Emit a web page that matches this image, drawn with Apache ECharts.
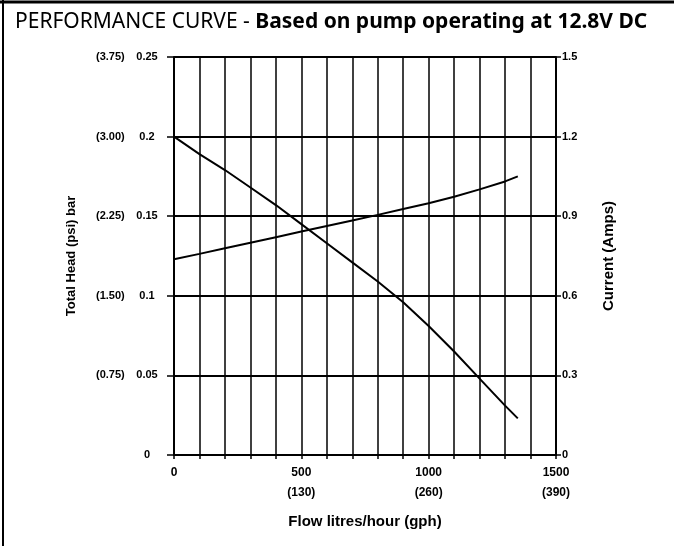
<!DOCTYPE html>
<html>
<head>
<meta charset="utf-8">
<script src="https://cdn.jsdelivr.net/npm/echarts@6/dist/echarts.min.js"></script>
<style>html,body{margin:0;padding:0;background:#fff;}#c{width:678px;height:546px;}</style>
</head>
<body>
<div id="c"></div>
<script>
// Flow (litres/hour)
const flow = [0, 100, 200, 300, 400, 500, 600, 700, 800, 900, 1000, 1100, 1200, 1300, 1350];
// Total head (bar)
const headBar = [0.200, 0.189, 0.179, 0.168, 0.157, 0.145, 0.133, 0.121, 0.109, 0.096, 0.081, 0.065, 0.048, 0.031, 0.023];
// Current (Amps)
const currentAmps = [0.738, 0.758, 0.779, 0.800, 0.821, 0.842, 0.863, 0.884, 0.905, 0.927, 0.949, 0.973, 1.001, 1.031, 1.050];

// Tick labels
const xTickValues = [0, 500, 1000, 1500];
const xTickGph = ['', '(130)', '(260)', '(390)'];
const leftTickBar = ['0', '0.05', '0.1', '0.15', '0.2', '0.25'];
const leftTickPsi = ['', '(0.75)', '(1.50)', '(2.25)', '(3.00)', '(3.75)'];
const rightTickAmps = ['0', '0.3', '0.6', '0.9', '1.2', '1.5'];

const chart = echarts.init(document.getElementById('c'), null, {renderer: 'canvas'});
const lblFont = {fontFamily: 'Liberation Sans', fontWeight: 'bold', fontSize: 11, color: '#000'};

chart.setOption({
  backgroundColor: '#fff',
  animation: false,
  title: {
    left: 10, top: 7,
    text: '{a|PERFORMANCE CURVE - }{b|Based on pump operating at 12.8V DC}',
    textStyle: {
      rich: {
        a: {fontFamily: 'Noto Sans', fontSize: 21, fontWeight: 'normal', color: '#000'},
        b: {fontFamily: 'Noto Sans', fontSize: 21, fontWeight: 'bold', color: '#000'}
      }
    }
  },
  graphic: [
    {type: 'line', shape: {x1: 0, y1: 2, x2: 674, y2: 2}, style: {stroke: '#000', lineWidth: 3}},
    {type: 'line', shape: {x1: 3, y1: 0, x2: 3, y2: 546}, style: {stroke: '#000', lineWidth: 2}}
  ],
  grid: {left: 174, right: 122, top: 57, bottom: 91, containLabel: false},
  xAxis: {
    type: 'value', min: 0, max: 1500, interval: 100,
    name: 'Flow litres/hour (gph)', nameLocation: 'middle', nameGap: 59,
    nameTextStyle: {fontFamily: 'Liberation Sans', fontWeight: 'bold', fontSize: 15, color: '#000'},
    axisLine: {show: true, lineStyle: {color: '#000', width: 2}},
    axisTick: {show: true, length: 4, lineStyle: {color: '#000', width: 1.5}},
    splitLine: {show: true, lineStyle: {color: '#000', width: 1.5}},
    axisLabel: Object.assign({
      interval: 0, margin: 8, lineHeight: 20,
      formatter: function (v) {
        const i = xTickValues.indexOf(v);
        if (i < 0) return '';
        return xTickGph[i] ? v + '\n' + xTickGph[i] : String(v);
      }
    }, lblFont, {fontSize: 12})
  },
  yAxis: [
    {
      type: 'value', min: 0, max: 0.25, interval: 0.05, position: 'left',
      name: 'Total Head (psi) bar', nameLocation: 'middle', nameGap: 96, nameRotate: 90,
      nameTextStyle: {fontFamily: 'Liberation Sans', fontWeight: 'bold', fontSize: 13, color: '#000'},
      axisLine: {show: true, lineStyle: {color: '#000', width: 2}},
      axisTick: {show: true, length: 7, lineStyle: {color: '#000', width: 1.5}},
      splitLine: {show: true, lineStyle: {color: '#000', width: 2}},
      axisLabel: {
        margin: 12,
        formatter: function (v) {
          const i = Math.round(v / 0.05);
          return '{p|' + (leftTickPsi[i] || ' ') + '}{b|' + leftTickBar[i] + '}';
        },
        rich: {
          p: Object.assign({width: 36, align: 'left'}, lblFont),
          b: Object.assign({width: 30, align: 'center'}, lblFont)
        }
      }
    },
    {
      type: 'value', min: 0, max: 1.5, interval: 0.3, position: 'right',
      name: 'Current (Amps)', nameLocation: 'middle', nameGap: 45, nameRotate: 90,
      nameTextStyle: {fontFamily: 'Liberation Sans', fontWeight: 'bold', fontSize: 15, color: '#000'},
      axisLine: {show: true, lineStyle: {color: '#000', width: 2}},
      axisTick: {show: true, length: 5, lineStyle: {color: '#000', width: 1.5}},
      splitLine: {show: false},
      axisLabel: Object.assign({
        margin: 6,
        formatter: function (v) { return rightTickAmps[Math.round(v / 0.3)]; }
      }, lblFont)
    }
  ],
  series: [
    {
      name: 'Total Head', type: 'line', yAxisIndex: 0, symbol: 'none', smooth: false,
      lineStyle: {color: '#000', width: 2},
      data: flow.map((f, i) => [f, headBar[i]])
    },
    {
      name: 'Current', type: 'line', yAxisIndex: 1, symbol: 'none', smooth: false,
      lineStyle: {color: '#000', width: 2},
      data: flow.map((f, i) => [f, currentAmps[i]])
    }
  ]
});
</script>
</body>
</html>
